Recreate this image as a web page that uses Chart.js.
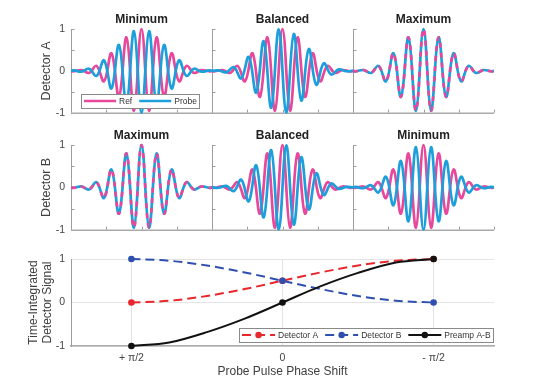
<!DOCTYPE html>
<html>
<head>
<meta charset="utf-8">
<title>Probe pulse phase shift</title>
<script src="https://cdn.jsdelivr.net/npm/chart.js@4.4.0/dist/chart.umd.min.js"></script>
<style>
    html, body { margin: 0; padding: 0; background: #fff; }
    #fig { position: relative; width: 546px; height: 390px; overflow: hidden; }
    #fig canvas { position: absolute; left: 0; }
</style>
</head>
<body>
<div id="fig">
    <canvas id="rowA" width="546" height="125" style="top:0"></canvas>
    <canvas id="rowB" width="546" height="122" style="top:120px"></canvas>
    <canvas id="signal" width="546" height="150" style="top:240px"></canvas>
</div>
<script>
// ---- data -------------------------------------------------------------

// panel-local time axis; every panel runs from -47 to 47
const panelSpan = 94;

// extrema of the reference pulse (cosine phase)
const refTimes = [-47, -45, -40, -35, -30, -25, -20, -15, -10, -5, 0, 5, 10, 15, 20, 25, 30, 35, 40, 45, 47];
const refPulse = [0, -0.01, 0.02, -0.05, 0.12, -0.25, 0.42, -0.62, 0.80, -0.95, 1, -0.95, 0.80, -0.62, 0.42, -0.25, 0.12, -0.05, 0.02, -0.01, 0];

// probe, out of phase / in phase with the reference
const probeMinimum = [0, 0.01, -0.02, 0.05, -0.12, 0.25, -0.42, 0.62, -0.80, 0.95, -1, 0.95, -0.80, 0.62, -0.42, 0.25, -0.12, 0.05, -0.02, 0.01, 0];
const probeMaximum = [0, -0.01, 0.02, -0.05, 0.12, -0.25, 0.42, -0.62, 0.80, -0.95, 1, -0.95, 0.80, -0.62, 0.42, -0.25, 0.12, -0.05, 0.02, -0.01, 0];

// probe, quarter period shifted (balanced panels)
const quarterTimes = [-47, -42.5, -37.5, -32.5, -27.5, -22.5, -17.5, -12.5, -7.5, -2.5, 2.5, 7.5, 12.5, 17.5, 22.5, 27.5, 32.5, 37.5, 42.5, 47];
const probeBalancedA = [0, 0.01, -0.035, 0.09, -0.18, 0.33, -0.52, 0.71, -0.88, 0.99, -0.99, 0.88, -0.71, 0.52, -0.33, 0.18, -0.09, 0.035, -0.01, 0];
const probeBalancedB = [0, -0.01, 0.035, -0.09, 0.18, -0.33, 0.52, -0.71, 0.88, -0.99, 0.99, -0.88, 0.71, -0.52, 0.33, -0.18, 0.09, -0.035, 0.01, 0];

const waveTicks = [-1, -0.5, 0, 0.5, 1];

// bottom panel: phase in units of pi/2
const phaseShift = [1, 0.75, 0.5, 0.25, 0, -0.25, -0.5, -0.75, -1];
const detectorA = [0, 0.04, 0.15, 0.31, 0.5, 0.69, 0.85, 0.96, 1];
const detectorB = [1, 0.96, 0.85, 0.69, 0.5, 0.31, 0.15, 0.04, 0];
const preampAB = [-1, -0.92, -0.68, -0.37, 0, 0.37, 0.68, 0.92, 1];

const markerPhase = [1, 0, -1];
const markerA = [0, 0.5, 1];
const markerB = [1, 0.5, 0];
const markerAB = [-1, 0, 1];

const phaseTicks = [1, 0, -1];
const phaseLabels = ['+ \u03c0/2', '0', '- \u03c0/2'];

// ---- styles -----------------------------------------------------------

const PINK = '#E8489B';
const BLUE = '#1D9FDB';
const RED = '#E8272C';
const NAVY = '#2F4FAE';
const BLACK = '#111111';
const AXIS = '#9c9c9c';
const FONT = "'Liberation Sans', Arial, Helvetica, sans-serif";

Chart.defaults.font.family = FONT;
Chart.defaults.color = '#444';

// ---- plugins ----------------------------------------------------------

/**
 * Axis lines, inner ticks and titles of the three wave panels in a row
 */
const rowFrame = {
    id: 'rowFrame',
    beforeDatasetsDraw(chart) {
        const { ctx, chartArea: a, scales: { x, y } } = chart;
        const px = v => Math.round(v) + 0.5;
        ctx.save();
        ctx.lineWidth = 1;
        ctx.strokeStyle = AXIS;
        ctx.beginPath();
        for (let k = 0; k < 3; k++) {
            const xp = px(x.getPixelForValue(-panelSpan / 2 + k * panelSpan));
            ctx.moveTo(xp, a.top);
            ctx.lineTo(xp, a.bottom);
            waveTicks.forEach(v => {
                const yp = px(y.getPixelForValue(v));
                ctx.moveTo(xp, yp);
                ctx.lineTo(xp + 3, yp);
            });
        }
        for (let t = -panelSpan / 2; t <= panelSpan * 2.5 + 0.01; t += panelSpan / 4) {
            const xp = px(x.getPixelForValue(t));
            ctx.moveTo(xp, a.bottom);
            ctx.lineTo(xp, a.bottom - 3);
        }
        ctx.stroke();
        // bottom axis is a bit heavier
        ctx.strokeStyle = '#aaaaaa';
        ctx.lineWidth = 1.6;
        ctx.beginPath();
        ctx.moveTo(a.left, a.bottom + 0.5);
        ctx.lineTo(a.right, a.bottom + 0.5);
        ctx.stroke();
        ctx.restore();
    },
    afterDatasetsDraw(chart, args, opts) {
        const { ctx, chartArea: a, scales: { x } } = chart;
        ctx.save();
        ctx.font = 'bold 12px ' + FONT;
        ctx.fillStyle = '#222';
        ctx.textAlign = 'center';
        ctx.textBaseline = 'middle';
        opts.titles.forEach((t, k) => {
            ctx.fillText(t, x.getPixelForValue(k * panelSpan), a.top - 9.5);
        });
        ctx.restore();
    }
};

/**
 * Boxed legend drawn inside the plot
 */
const insetLegend = {
    id: 'insetLegend',
    afterDatasetsDraw(chart, args, opts) {
        if (!opts.items) return;
        const { ctx } = chart;
        ctx.save();
        ctx.font = '8.5px ' + FONT;
        const h = 14;
        const top = opts.y - h / 2;
        let cur = opts.x + 3;
        const pos = opts.items.map(it => {
            const p = { x0: cur, x1: cur + opts.lineLength, tx: cur + opts.lineLength + 3 };
            cur = p.tx + ctx.measureText(it.text).width + 7;
            return p;
        });
        const right = cur - 5;
        ctx.fillStyle = '#fff';
        ctx.fillRect(opts.x, top, right - opts.x, h);
        ctx.strokeStyle = '#8a8a8a';
        ctx.lineWidth = 1;
        ctx.strokeRect(Math.round(opts.x) + 0.5, Math.round(top) + 0.5, Math.round(right - opts.x), h);
        opts.items.forEach((it, i) => {
            const p = pos[i];
            ctx.strokeStyle = it.color;
            ctx.lineWidth = it.width;
            ctx.setLineDash(it.dash || []);
            ctx.beginPath();
            ctx.moveTo(p.x0, opts.y);
            ctx.lineTo(p.x1, opts.y);
            ctx.stroke();
            ctx.setLineDash([]);
            if (it.marker) {
                ctx.fillStyle = it.color;
                ctx.beginPath();
                ctx.arc((p.x0 + p.x1) / 2, opts.y, 3.2, 0, Math.PI * 2);
                ctx.fill();
            }
            ctx.fillStyle = '#333';
            ctx.textBaseline = 'middle';
            ctx.fillText(it.text, p.tx, opts.y + 0.5);
        });
        ctx.restore();
    }
};

// ---- charts -----------------------------------------------------------

function panelData(times, values, k) {
    return times.map((t, i) => ({ x: t + k * panelSpan, y: values[i] }));
}

/**
 * One row of three wave panels sharing a time axis
 */
function createRowChart(canvas, row) {
    const datasets = [];
    row.probes.forEach(([times, values], k) => {
        const inPhase = row.inPhase[k];
        datasets.push({
            data: panelData(refTimes, refPulse, k),
            borderColor: PINK,
            borderDash: inPhase ? [5, 5] : [],
            order: inPhase ? 1 : 2
        });
        datasets.push({
            data: panelData(times, values, k),
            borderColor: BLUE,
            order: inPhase ? 2 : 1
        });
    });

    return new Chart(canvas, {
        type: 'line',
        data: { datasets },
        options: {
            responsive: false,
            animation: false,
            events: [],
            layout: { padding: row.padding },
            elements: {
                point: { radius: 0 },
                line: { borderWidth: 2.7, tension: 0.4, borderCapStyle: 'butt' }
            },
            datasets: { line: { clip: false } },
            plugins: {
                legend: { display: false },
                tooltip: { enabled: false },
                rowFrame: { titles: row.titles },
                insetLegend: row.legend
            },
            scales: {
                x: { type: 'linear', display: false, min: -panelSpan / 2, max: panelSpan * 2.5 },
                y: {
                    min: -1,
                    max: 1,
                    afterFit: s => { s.width = 71; },
                    ticks: { stepSize: 1, padding: 6, font: { size: 10.5 }, color: '#444' },
                    grid: { display: false, drawTicks: false },
                    border: { display: false },
                    title: {
                        display: true,
                        text: row.yLabel,
                        color: '#404040',
                        font: { size: 12.5 },
                        padding: { top: 39.5, bottom: 0 }
                    }
                }
            }
        },
        plugins: [rowFrame, insetLegend]
    });
}

createRowChart(document.getElementById('rowA'), {
    titles: ['Minimum', 'Balanced', 'Maximum'],
    yLabel: 'Detector A',
    probes: [[refTimes, probeMinimum], [quarterTimes, probeBalancedA], [refTimes, probeMaximum]],
    inPhase: [false, false, true],
    padding: { top: 29, right: 52, bottom: 8, left: 0 },
    legend: {
        x: 81, y: 101, lineLength: 32,
        items: [
            { text: 'Ref', color: PINK, width: 2.5 },
            { text: 'Probe', color: BLUE, width: 2.5 }
        ]
    }
});

createRowChart(document.getElementById('rowB'), {
    titles: ['Maximum', 'Balanced', 'Minimum'],
    yLabel: 'Detector B',
    probes: [[refTimes, probeMaximum], [quarterTimes, probeBalancedB], [refTimes, probeMinimum]],
    inPhase: [true, false, false],
    padding: { top: 25, right: 52, bottom: 9, left: 0 },
    legend: {}
});

function xy(xs, ys) {
    return xs.map((v, i) => ({ x: v, y: ys[i] }));
}

new Chart(document.getElementById('signal'), {
    type: 'line',
    data: {
        datasets: [
            { data: xy(markerPhase, markerB), showLine: false, pointRadius: 3.3, pointBackgroundColor: NAVY, order: 0 },
            { data: xy(markerPhase, markerAB), showLine: false, pointRadius: 3.3, pointBackgroundColor: BLACK, order: 0 },
            { data: xy(markerPhase, markerA), showLine: false, pointRadius: 3.3, pointBackgroundColor: RED, order: 1 },
            { data: xy(phaseShift, preampAB), borderColor: BLACK, borderWidth: 2, order: 3 },
            { data: xy(phaseShift, detectorB), borderColor: NAVY, borderWidth: 2, borderDash: [9, 5], order: 4 },
            { data: xy(phaseShift, detectorA), borderColor: RED, borderWidth: 2, borderDash: [9, 5], order: 5 }
        ]
    },
    options: {
        responsive: false,
        animation: false,
        events: [],
        layout: { padding: { top: 19, right: 52, bottom: 0, left: 0 } },
        elements: {
            point: { radius: 0, borderWidth: 0 },
            line: { cubicInterpolationMode: 'monotone', borderCapStyle: 'butt' }
        },
        datasets: { line: { clip: false } },
        plugins: {
            legend: { display: false },
            tooltip: { enabled: false },
            insetLegend: {
                x: 239, y: 95, lineLength: 33,
                items: [
                    { text: 'Detector A', color: RED, width: 2, dash: [9, 5], marker: true },
                    { text: 'Detector B', color: NAVY, width: 2, dash: [9, 5], marker: true },
                    { text: 'Preamp A-B', color: BLACK, width: 2, marker: true }
                ]
            }
        },
        scales: {
            x: {
                type: 'linear',
                reverse: true,
                min: -1.4,
                max: 1.4,
                afterBuildTicks: s => { s.ticks = phaseTicks.map(v => ({ value: v })); },
                afterFit: s => { s.height = 44; },
                ticks: {
                    padding: 6,
                    font: { size: 10.5 },
                    color: '#444',
                    callback: v => phaseLabels[phaseTicks.indexOf(v)]
                },
                grid: { color: '#e4e4e4', drawTicks: false },
                border: { color: '#aaaaaa', width: 1.5 },
                title: {
                    display: true,
                    text: 'Probe Pulse Phase Shift',
                    color: '#404040',
                    font: { size: 12 },
                    padding: { top: 0, bottom: 11 }
                }
            },
            y: {
                min: -1,
                max: 1,
                afterFit: s => { s.width = 71; },
                ticks: { stepSize: 1, padding: 6, font: { size: 10.5 }, color: '#444' },
                grid: { color: '#e4e4e4', drawTicks: false },
                border: { color: AXIS },
                title: {
                    display: true,
                    text: ['Time-Integrated', 'Detector Signal'],
                    color: '#404040',
                    font: { size: 12 },
                    padding: { top: 26, bottom: 0 }
                }
            }
        }
    },
    plugins: [insetLegend]
});
</script>
</body>
</html>
